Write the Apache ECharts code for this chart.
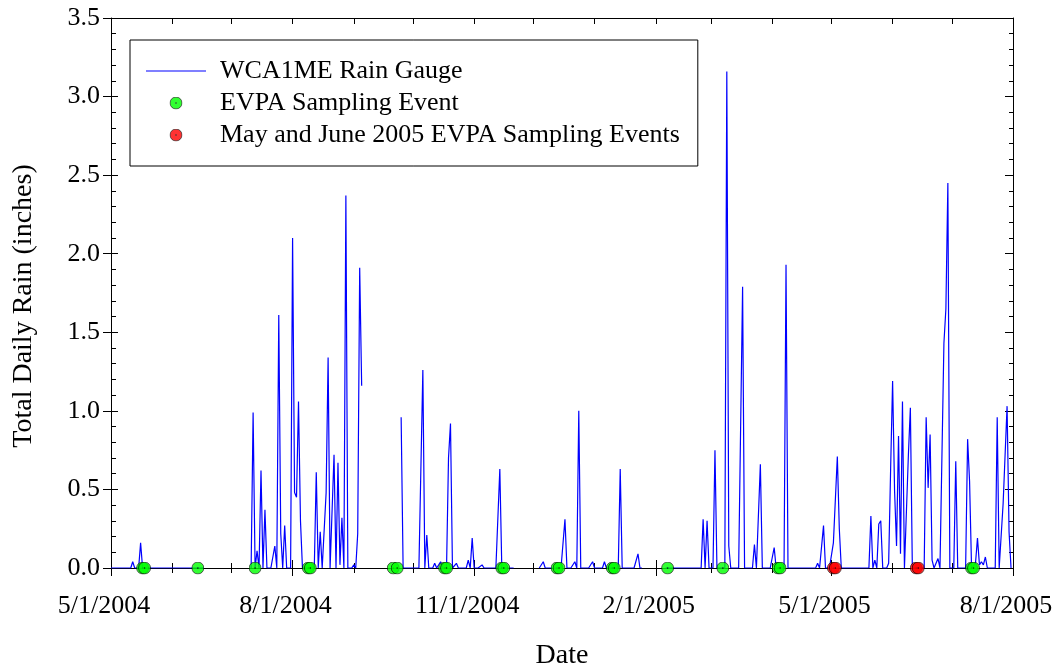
<!DOCTYPE html>
<html>
<head>
<meta charset="utf-8">
<title>WCA1ME Rain Gauge</title>
<script src="https://cdn.jsdelivr.net/npm/echarts@6/dist/echarts.min.js"></script>
<style>
  html, body { margin: 0; padding: 0; background: #fff; }
  #chart { width: 1058px; height: 670px; }
</style>
</head>
<body>
<div id="chart"></div>
<script>
// axis range and ticks
var startDate = '2004-05-01';
var endDate = '2005-08-01';
var majorTicks = ['2004-05-01', '2004-08-01', '2004-11-01', '2005-02-01', '2005-05-01', '2005-08-01'];
var monthTicks = ['2004-05-01', '2004-06-01', '2004-07-01', '2004-08-01', '2004-09-01', '2004-10-01',
  '2004-11-01', '2004-12-01', '2005-01-01', '2005-02-01', '2005-03-01', '2005-04-01',
  '2005-05-01', '2005-06-01', '2005-07-01', '2005-08-01'];

// days with rain (all other days read as 0)
var rainDates = ['2004-05-12', '2004-05-16', '2004-07-12', '2004-07-14', '2004-07-16', '2004-07-18',
  '2004-07-23', '2004-07-25', '2004-07-26', '2004-07-28', '2004-08-01', '2004-08-02', '2004-08-03',
  '2004-08-04', '2004-08-05', '2004-08-13', '2004-08-15', '2004-08-18', '2004-08-19', '2004-08-22',
  '2004-08-24', '2004-08-25', '2004-08-26', '2004-08-28', '2004-09-01', '2004-09-03', '2004-09-04',
  '2004-09-05', '2004-09-25', '2004-10-06', '2004-10-08', '2004-10-12', '2004-10-15', '2004-10-19',
  '2004-10-20', '2004-10-23', '2004-10-29', '2004-10-31', '2004-11-05', '2004-11-14', '2004-12-06',
  '2004-12-17', '2004-12-22', '2004-12-24', '2004-12-31', '2005-01-06', '2005-01-14', '2005-01-23',
  '2005-02-25', '2005-02-27', '2005-03-03', '2005-03-09', '2005-03-10', '2005-03-17', '2005-03-23',
  '2005-03-26', '2005-04-02', '2005-04-08', '2005-04-24', '2005-04-27', '2005-05-02', '2005-05-03',
  '2005-05-04', '2005-05-05', '2005-05-21', '2005-05-23', '2005-05-25', '2005-05-26', '2005-05-30',
  '2005-05-31', '2005-06-01', '2005-06-02', '2005-06-03', '2005-06-04', '2005-06-05', '2005-06-06',
  '2005-06-09', '2005-06-10', '2005-06-18', '2005-06-19', '2005-06-20', '2005-06-21', '2005-06-24',
  '2005-06-27', '2005-06-28', '2005-06-29', '2005-07-03', '2005-07-09', '2005-07-10', '2005-07-13',
  '2005-07-14', '2005-07-15', '2005-07-16', '2005-07-17', '2005-07-18', '2005-07-24', '2005-07-27',
  '2005-07-28', '2005-07-29', '2005-07-30'];
var rainValues = [0.04, 0.16, 0.99, 0.11, 0.62, 0.37,
  0.14, 1.61, 0.22, 0.27, 2.10, 0.48, 0.45,
  1.06, 0.30, 0.61, 0.23, 0.48, 1.34, 0.72,
  0.67, 0.02, 0.32, 2.37, 0.02, 0.22, 1.91,
  1.16, 0.96, 1.26, 0.21, 0.03, 0.04, 0.70,
  0.92, 0.03, 0.05, 0.19, 0.02, 0.63, 0.04,
  0.31, 0.04, 1.00, 0.04, 0.04, 0.63, 0.09,
  0.31, 0.30, 0.75, 3.16, 0.14, 1.79, 0.15,
  0.66, 0.13, 1.93, 0.03, 0.27, 0.16, 0.17,
  0.71, 0.25, 0.33, 0.05, 0.28, 0.30, 0.03,
  0.63, 1.19, 0.49, 0.14, 0.84, 0.09, 1.06,
  0.72, 1.02, 0.96, 0.51, 0.85, 0.05, 0.06,
  1.43, 1.65, 2.45, 0.68, 0.82, 0.55, 0.03,
  0.19, 0.02, 0.04, 0.02, 0.07, 0.96, 0.41,
  0.40, 1.03, 0.23];

// periods with no gauge record
var gapStarts = ['2004-06-18', '2004-09-06', '2004-11-22', '2005-01-26'];
var gapEnds = ['2004-07-10', '2004-09-24', '2004-12-03', '2005-02-05'];

// sampling events
var sampleDates = ['2004-05-17', '2004-05-18', '2004-06-14', '2004-07-13', '2004-08-09', '2004-08-10',
  '2004-09-21', '2004-09-23', '2004-10-17', '2004-10-18', '2004-11-15', '2004-11-16',
  '2004-12-13', '2004-12-14', '2005-01-10', '2005-01-11', '2005-02-07', '2005-03-07',
  '2005-04-04', '2005-04-05', '2005-07-11', '2005-07-12'];
var mayJuneDates = ['2005-05-02', '2005-05-03', '2005-06-13', '2005-06-14'];

var FONT = 'Liberation Serif';

function toTime(s) {
  var p = s.split('-');
  return new Date(+p[0], +p[1] - 1, +p[2]).getTime();
}
function dayKey(d) {
  var m = d.getMonth() + 1, dd = d.getDate();
  return d.getFullYear() + '-' + (m < 10 ? '0' : '') + m + '-' + (dd < 10 ? '0' : '') + dd;
}
function inGap(t) {
  for (var i = 0; i < gapStarts.length; i++) {
    if (t >= toTime(gapStarts[i]) && t <= toTime(gapEnds[i])) return true;
  }
  return false;
}
function marker(fill) {
  var svg = "<svg xmlns='http://www.w3.org/2000/svg' width='26' height='26' viewBox='0 0 26 26'>" +
    "<circle cx='13' cy='13' r='12' fill='" + fill + "' stroke='#000' stroke-width='1.6'/>" +
    "<circle cx='13' cy='13' r='1.6' fill='#000'/></svg>";
  return 'image://data:image/svg+xml;charset=utf-8,' + encodeURIComponent(svg);
}

var rainByDay = {};
rainDates.forEach(function (d, i) { rainByDay[d] = rainValues[i]; });

var lineData = [];
var day = new Date(toTime(startDate));
while (day.getTime() <= toTime(endDate)) {
  var t = day.getTime();
  lineData.push([t, inGap(t) ? '-' : (rainByDay[dayKey(day)] || 0)]);
  day.setDate(day.getDate() + 1);
}
var sampleData = sampleDates.map(function (d) { return [toTime(d), 0]; });
var mayJuneData = mayJuneDates.map(function (d) { return [toTime(d), 0]; });

var black = { color: '#000', width: 1 };

// x axes are plain value axes holding timestamps, so custom tick positions work
function xAx(pos, ticks, inside, len, extra) {
  var ax = {
    type: 'value', gridIndex: 0, position: pos,
    min: toTime(startDate), max: toTime(endDate),
    axisLine: { show: false, onZero: false },
    axisLabel: { show: false },
    splitLine: { show: false },
    axisTick: {
      show: true, inside: inside, length: len, lineStyle: black,
      customValues: ticks.map(toTime)
    }
  };
  for (var k in extra) ax[k] = extra[k];
  return ax;
}
function yAx(pos, inside, len, minorLen, extra) {
  var ax = {
    type: 'value', gridIndex: 0, position: pos,
    min: 0, max: 3.5, interval: 0.5,
    axisLine: { show: false, onZero: false },
    axisLabel: { show: false },
    splitLine: { show: false },
    axisTick: { show: true, inside: inside, length: len, lineStyle: black },
    minorTick: { show: minorLen > 0, splitNumber: 5, length: minorLen, lineStyle: black },
    minorSplitLine: { show: false }
  };
  for (var k in extra) ax[k] = extra[k];
  return ax;
}

var chart = echarts.init(document.getElementById('chart'), null, { renderer: 'canvas' });

chart.setOption({
  animation: false,
  backgroundColor: '#fff',
  textStyle: { fontFamily: FONT, color: '#000' },
  grid: { left: 111, right: 45, top: 18, bottom: 102, containLabel: false, outerBoundsMode: 'none' },
  legend: {
    orient: 'vertical', left: 130, top: 40,
    backgroundColor: '#fff', borderColor: '#000', borderWidth: 1, borderRadius: 0,
    padding: [18, 18, 18, 16],
    itemWidth: 60, itemHeight: 13, itemGap: 6,
    textStyle: { fontFamily: FONT, fontSize: 26, color: '#000', lineHeight: 26, padding: [0, 0, 0, 9] },
    data: [
      { name: 'WCA1ME Rain Gauge', icon: 'path://M0,0 H60 V1 H0 Z' },
      'EVPA Sampling Event',
      'May and June 2005 EVPA Sampling Events'
    ]
  },
  xAxis: [
    xAx('bottom', majorTicks, false, 8, {
      axisLine: { show: true, onZero: false, lineStyle: black },
      axisLabel: {
        show: true, margin: 25, fontFamily: FONT, fontSize: 26, color: '#000',
        padding: [0, 14, 0, 0],
        customValues: majorTicks.map(toTime),
        formatter: function (v) {
          var d = new Date(v);
          return (d.getMonth() + 1) + '/' + d.getDate() + '/' + d.getFullYear();
        }
      },
      name: 'Date', nameLocation: 'middle', nameGap: 74,
      nameTextStyle: { fontFamily: FONT, fontSize: 28, color: '#000' }
    }),
    xAx('bottom', majorTicks, true, 8),
    xAx('bottom', monthTicks, false, 5),
    xAx('bottom', monthTicks, true, 5),
    xAx('top', monthTicks, true, 6, { axisLine: { show: true, onZero: false, lineStyle: black } })
  ],
  yAxis: [
    yAx('left', false, 8, 0, {
      axisLine: { show: true, onZero: false, lineStyle: black },
      axisLabel: {
        show: true, margin: 11, fontFamily: FONT, fontSize: 26, color: '#000',
        formatter: function (v) { return v.toFixed(1); }
      },
      name: 'Total Daily Rain (inches)', nameLocation: 'middle', nameGap: 73,
      nameTextStyle: { fontFamily: FONT, fontSize: 28, color: '#000', padding: [0, 26, 0, 0] }
    }),
    yAx('left', true, 7, 5),
    yAx('right', true, 8, 4, { axisLine: { show: true, onZero: false, lineStyle: black } })
  ],
  series: [
    {
      name: 'WCA1ME Rain Gauge', type: 'line', xAxisIndex: 0, yAxisIndex: 0,
      data: lineData, symbol: 'none', showSymbol: false, connectNulls: false,
      lineStyle: { color: '#0000ff', width: 1.2 }, itemStyle: { color: '#0000ff' }, z: 2
    },
    {
      name: 'EVPA Sampling Event', type: 'scatter', xAxisIndex: 0, yAxisIndex: 0,
      data: sampleData, symbol: marker('#00ff00'), symbolSize: 13, clip: false,
      itemStyle: { color: '#00ff00' }, z: 3
    },
    {
      name: 'May and June 2005 EVPA Sampling Events', type: 'scatter', xAxisIndex: 0, yAxisIndex: 0,
      data: mayJuneData, symbol: marker('#ff0000'), symbolSize: 13, clip: false,
      itemStyle: { color: '#ff0000' }, z: 4
    }
  ]
});
</script>
</body>
</html>
